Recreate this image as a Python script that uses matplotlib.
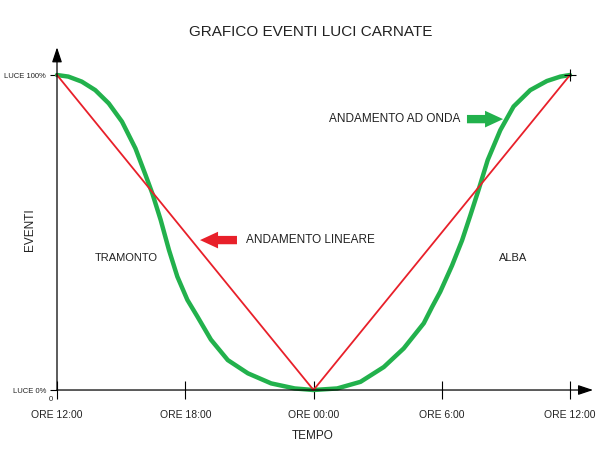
import matplotlib
matplotlib.use("Agg")
import matplotlib.pyplot as plt

plt.rcParams['font.family'] = ['Liberation Sans', 'DejaVu Sans']

# ore dall'inizio (ore 12:00) e livello luce in %
linear_hours = [0, 12, 24]
linear_light = [100, 0, 100]

wave_hours = [0, 0.53, 1.16, 1.79, 2.42, 3.04, 3.67, 4.14, 4.46, 4.85, 5.24, 5.63,
              6.10, 6.57, 7.2, 7.99, 8.93, 10.02, 11.12, 12,
              13.11, 14.2, 15.29, 16.22, 17.16, 17.55, 17.93, 18.48, 18.95, 19.34,
              19.72, 20.15, 20.74, 21.36, 22.14, 22.92, 23.55, 24]
wave_light = [100, 99.5, 97.9, 95.2, 91.0, 85.2, 76.7, 68.3, 62.4, 54.0, 44.4, 36.0,
              28.6, 23.3, 16.0, 9.5, 5.3, 2.1, 0.5, 0,
              0.5, 2.6, 7.3, 13.2, 21.2, 26.4, 31.2, 39.5, 47.5, 55.5,
              63.5, 73.0, 82.5, 90.0, 95.2, 98.1, 99.5, 100]

tick_hours = [0, 6, 12, 18, 24]
tick_labels = ["ORE 12:00", "ORE 18:00", "ORE 00:00", "ORE 6:00", "ORE 12:00"]

RED = "#e8202a"
GREEN = "#22b14c"
TXT = "#222222"

fig = plt.figure(figsize=(6, 4.5), dpi=100)
ax = fig.add_axes([0.095, 0.1333, 0.855, 0.7])
ax.set_xlim(0, 24)
ax.set_ylim(0, 100)

ax.plot(linear_hours, linear_light, color=RED, lw=1.3, zorder=3, clip_on=False)
ax.plot(wave_hours, wave_light, color=GREEN, lw=3.2, zorder=2, clip_on=False,
        solid_joinstyle='round', solid_capstyle='round')
ax.plot([linear_hours[-1]], [linear_light[-1]], marker='+', color='black',
        ms=9, mew=0.8, zorder=4, clip_on=False)

# assi con frecce
for s in ax.spines.values():
    s.set_visible(False)
ax.annotate('', xy=(0, 1.088), xytext=(0, 0), xycoords='axes fraction',
            arrowprops=dict(arrowstyle='-|>,head_length=0.9,head_width=0.3',
                            color='black', lw=0.9, shrinkA=0, shrinkB=0))
ax.annotate('', xy=(1.045, 0), xytext=(0, 0), xycoords='axes fraction',
            arrowprops=dict(arrowstyle='-|>,head_length=0.9,head_width=0.3',
                            color='black', lw=0.9, shrinkA=0, shrinkB=0))

ax.set_xticks(tick_hours)
ax.set_xticklabels(tick_labels, fontsize=7.5, color=TXT)
ax.tick_params(axis='x', direction='inout', length=13, width=0.8, pad=8)
ax.set_yticks([0, 100])
ax.set_yticklabels(["LUCE 0%", "LUCE 100%"], fontsize=5.5, color=TXT)
ax.tick_params(axis='y', direction='out', length=5, width=0.8, pad=3)
ax.text(-0.2, -2, "0", fontsize=5.5, color=TXT, ha='right', va='top')

ax.set_xlabel("TEMPO", fontsize=8.5, color=TXT)
ax.xaxis.set_label_coords(0.499, -0.127)
ax.set_ylabel("EVENTI", fontsize=8.5, color=TXT)
ax.yaxis.set_label_coords(-0.04, 0.508)

fig.text(0.517, 0.929, "GRAFICO EVENTI LUCI CARNATE", fontsize=11,
         ha='center', va='center', color=TXT)

# etichette e frecce
ax.text(3.25, 42, "TRAMONTO", fontsize=8, color=TXT, ha='center', va='center')
ax.text(21.35, 42, "ALBA", fontsize=8, color=TXT, ha='center', va='center')
ax.text(8.85, 47.6, "ANDAMENTO LINEARE", fontsize=8.5, color=TXT, ha='left', va='center')
ax.text(18.85, 86, "ANDAMENTO AD ONDA", fontsize=8.5, color=TXT, ha='right', va='center')

fat = 'simple,head_length=1.3,head_width=1.2,tail_width=0.6'
ax.annotate('', xy=(6.69, 47.6), xytext=(8.42, 47.6),
            arrowprops=dict(arrowstyle=fat, color=RED, mutation_scale=10,
                            shrinkA=0, shrinkB=0, lw=0))
ax.annotate('', xy=(20.87, 86), xytext=(19.18, 86),
            arrowprops=dict(arrowstyle=fat, color=GREEN, mutation_scale=10,
                            shrinkA=0, shrinkB=0, lw=0))

fig.savefig("out.png", dpi=100, facecolor='white')
